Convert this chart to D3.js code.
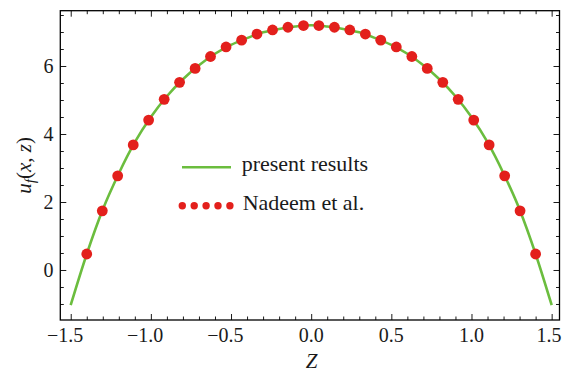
<!DOCTYPE html>
<html>
<head>
<meta charset="utf-8">
<script src="https://cdn.jsdelivr.net/npm/d3@7"></script>
<style>
  html, body { margin: 0; padding: 0; background: #fff; }
  svg { display: block; }
</style>
</head>
<body>
<div id="chart"></div>
<script>
// ---- data ----
const curveZ = [-1.5, -1.4, -1.3, -1.2, -1.1, -1.0, -0.9, -0.8, -0.7, -0.6, -0.5, -0.4, -0.3, -0.2, -0.1,
                0.0, 0.1, 0.2, 0.3, 0.4, 0.5, 0.6, 0.7, 0.8, 0.9, 1.0, 1.1, 1.2, 1.3, 1.4, 1.5];
const curveU = [-1.03, 0.47, 1.78, 2.84, 3.76, 4.50, 5.11, 5.61, 6.02, 6.36, 6.62, 6.82, 6.99, 7.09, 7.16,
                7.20, 7.16, 7.09, 6.99, 6.82, 6.62, 6.36, 6.02, 5.61, 5.11, 4.50, 3.76, 2.84, 1.78, 0.47, -1.03];

const pointZ = [-1.400, -1.303, -1.207, -1.110, -1.014, -0.917, -0.821, -0.724, -0.628, -0.531,
                -0.434, -0.338, -0.241, -0.145, -0.048, 0.048, 0.145, 0.241, 0.338, 0.434,
                0.531, 0.628, 0.724, 0.821, 0.917, 1.014, 1.110, 1.207, 1.303, 1.400];
const pointU = [0.47, 1.74, 2.77, 3.68, 4.41, 5.02, 5.52, 5.93, 6.28, 6.56,
                6.76, 6.94, 7.06, 7.14, 7.19, 7.19, 7.14, 7.06, 6.94, 6.76,
                6.56, 6.28, 5.93, 5.52, 5.02, 4.41, 3.68, 2.77, 1.74, 0.47];

const xMajorTicks = [-1.5, -1.0, -0.5, 0.0, 0.5, 1.0, 1.5];
const xTickLabels = ["\u22121.5", "\u22121.0", "\u22120.5", "0.0", "0.5", "1.0", "1.5"];
const yMajorTicks = [0, 2, 4, 6];
const yTickLabels = ["0", "2", "4", "6"];
const legendLabels = ["present results", "Nadeem et al."];

// ---- layout ----
const W = 562, H = 372;
const L = 60.3, R = 559.5, T = 10.7, B = 320;
const green = "#6bbd3e", red = "#e3201c";
const FONT = "Liberation Serif, DejaVu Serif, serif";

const svg = d3.select("#chart").append("svg").attr("width", W).attr("height", H);

const x = d3.scaleLinear().domain([-1.565, 1.549]).range([L, R]);
const y = d3.scaleLinear().domain([-1.4706, 7.6265]).range([B, T]);

const xMinor = x.ticks(30).filter(v => !xMajorTicks.some(m => Math.abs(m - v) < 1e-6));
const yMinor = d3.range(-1.0, 7.6, 0.5).filter(v => !yMajorTicks.some(m => Math.abs(m - v) < 1e-6));

function addAxis(axisFn, scale, vals, size, tr) {
  const g = svg.append("g").attr("transform", tr)
    .call(axisFn(scale).tickValues(vals).tickSize(-size).tickFormat(""));
  g.select(".domain").remove();
  g.selectAll(".tick line").attr("stroke", "#000").attr("stroke-width", 0.9);
}
addAxis(d3.axisBottom, x, xMajorTicks, 6, `translate(0,${B})`);
addAxis(d3.axisBottom, x, xMinor, 3.5, `translate(0,${B})`);
addAxis(d3.axisTop, x, xMajorTicks, 6, `translate(0,${T})`);
addAxis(d3.axisTop, x, xMinor, 3.5, `translate(0,${T})`);
addAxis(d3.axisLeft, y, yMajorTicks, 6, `translate(${L},0)`);
addAxis(d3.axisLeft, y, yMinor, 3.5, `translate(${L},0)`);
addAxis(d3.axisRight, y, yMajorTicks, 6, `translate(${R},0)`);
addAxis(d3.axisRight, y, yMinor, 3.5, `translate(${R},0)`);

svg.append("rect").attr("x", L).attr("y", T).attr("width", R - L).attr("height", B - T)
  .attr("fill", "none").attr("stroke", "#000").attr("stroke-width", 1.3);

function txt(sel) { return sel.append("text").style("font-family", FONT).attr("fill", "#1a1a1a"); }

const measure = txt(svg).attr("font-size", 20).attr("opacity", 0);
xMajorTicks.forEach((v, i) => {
  const lab = xTickLabels[i];
  measure.text(lab.replace("\u2212", ""));
  const w = measure.node().getComputedTextLength();
  const xe = Math.min(x(v) + w / 2, W - 0.5);
  txt(svg).attr("x", xe).attr("y", 342)
    .attr("text-anchor", "end").attr("font-size", 20).text(lab);
});
measure.remove();

yMajorTicks.forEach((v, i) => {
  txt(svg).attr("x", 53.5).attr("y", y(v) + 6.7)
    .attr("text-anchor", "end").attr("font-size", 20).text(yTickLabels[i]);
});

txt(svg).attr("x", 311.5).attr("y", 368).attr("text-anchor", "middle")
  .attr("font-size", 21).attr("font-style", "italic").text("Z");

const yl = txt(svg).attr("transform", `translate(31,${(T + B) / 2}) rotate(-90)`)
  .attr("text-anchor", "middle").attr("font-size", 21);
yl.append("tspan").attr("font-style", "italic").text("u");
yl.append("tspan").attr("font-style", "italic").attr("font-size", 15).attr("dy", 4).text("f");
yl.append("tspan").attr("dy", -4).text("(");
yl.append("tspan").attr("font-style", "italic").text("x");
yl.append("tspan").text(", ");
yl.append("tspan").attr("font-style", "italic").text("z");
yl.append("tspan").text(")");

const line = d3.line().x(d => x(d[0])).y(d => y(d[1])).curve(d3.curveMonotoneX);
svg.append("path").datum(d3.zip(curveZ, curveU)).attr("d", line)
  .attr("fill", "none").attr("stroke", green).attr("stroke-width", 2.6);

svg.append("g").selectAll("circle").data(d3.zip(pointZ, pointU)).join("circle")
  .attr("cx", d => x(d[0])).attr("cy", d => y(d[1])).attr("r", 5.4).attr("fill", red);

svg.append("line").attr("x1", 182).attr("x2", 231).attr("y1", 167.3).attr("y2", 167.3)
  .attr("stroke", green).attr("stroke-width", 2.6);
txt(svg).attr("x", 241.7).attr("y", 171.3).attr("font-size", 22).text(legendLabels[0]);
svg.append("g").selectAll("circle").data(d3.range(5)).join("circle")
  .attr("cx", i => 182.3 + i * 11.9).attr("cy", 205.7).attr("r", 3.7).attr("fill", red);
txt(svg).attr("x", 242.7).attr("y", 210.3).attr("font-size", 22).text(legendLabels[1]);
</script>
</body>
</html>
